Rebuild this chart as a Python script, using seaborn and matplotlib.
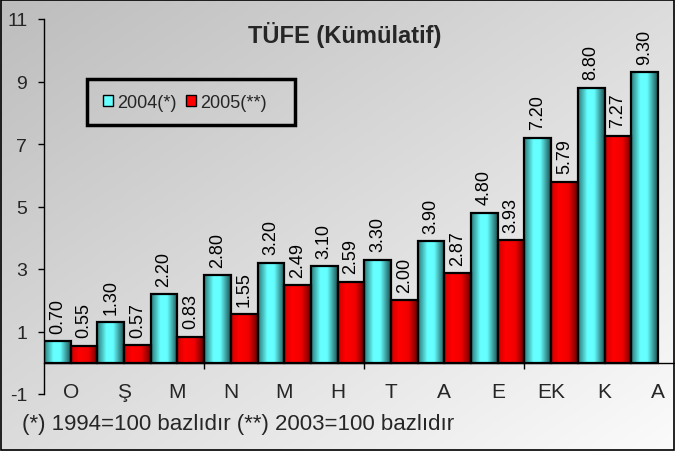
import numpy as np
import pandas as pd
import matplotlib
matplotlib.use("Agg")
import matplotlib.pyplot as plt
import seaborn as sns
from matplotlib.colors import LinearSegmentedColormap
from matplotlib.patches import Patch, Rectangle

# Aylar (Ekim 2004 - Ağustos 2005), kümülatif TÜFE
months = ["O", "Ş", "M", "N", "M", "H", "T", "A", "E", "EK", "K", "A"]
tufe_2004 = [0.70, 1.30, 2.20, 2.80, 3.20, 3.10, 3.30, 3.90, 4.80, 7.20, 8.80, 9.30]
tufe_2005 = [0.55, 0.57, 0.83, 1.55, 2.49, 2.59, 2.00, 2.87, 3.93, 5.79, 7.27, np.nan]
series_names = ["2004(*)", "2005(**)"]
y_ticks = [-1, 1, 3, 5, 7, 9, 11]

# long format for seaborn
df = pd.DataFrame({
    "pos": list(range(len(months))) * 2,
    "seri": [series_names[0]] * len(months) + [series_names[1]] * len(months),
    "deger": tufe_2004 + tufe_2005,
})

sns.set_theme(style="white")
plt.rcParams["font.family"] = ["Liberation Sans", "DejaVu Sans"]
plt.rcParams["axes.unicode_minus"] = False

teal_cmap = LinearSegmentedColormap.from_list(
    "teal", [(0, "#2b7a7a"), (0.35, "#66ffff"), (0.6, "#66ffff"), (1, "#1c5252")])
red_cmap = LinearSegmentedColormap.from_list(
    "red", [(0, "#d00000"), (0.3, "#ff0000"), (0.65, "#f00000"), (1, "#6a0000")])

fig = plt.figure(figsize=(6.75, 4.52), dpi=100)

# gradient background
bg = fig.add_axes([0, 0, 1, 1], zorder=-10)
yy, xx = np.mgrid[0:1:200j, 0:1:300j]
bg.imshow((xx + yy) / 2, cmap=LinearSegmentedColormap.from_list("bg", ["#bdbdbd", "#fbfbfb"]),
          extent=[0, 1, 0, 1], aspect="auto", origin="upper")
bg.axis("off")

ax = fig.add_axes([44 / 675, (452 - 395) / 452, 1 - 44 / 675, (395 - 20) / 452])
ax.set_facecolor("none")

sns.barplot(data=df, x="pos", y="deger", hue="seri", hue_order=series_names,
            width=1.0, gap=0, dodge=True, legend=False, ax=ax,
            palette=["#66ffff", "#ff0000"])

for patch in list(ax.patches):
    fc = patch.get_facecolor()
    cmap = teal_cmap if fc[1] > 0.5 else red_cmap
    x0, y0 = patch.get_x(), patch.get_y()
    w, h = patch.get_width(), patch.get_height()
    im = ax.imshow(np.linspace(0, 1, 64).reshape(1, -1), cmap=cmap, aspect="auto",
                   extent=[x0, x0 + w, y0, y0 + h], zorder=2, interpolation="bilinear")
    im.set_clip_path(patch)
    patch.set_facecolor("none")
    patch.set_edgecolor("black")
    patch.set_linewidth(1.6)
    patch.set_zorder(3)
    ax.annotate(f"{h:.2f}", (x0 + w / 2, y0 + h), xytext=(0, 6), textcoords="offset points",
                rotation=90, ha="center", va="bottom", fontsize=13, color="black")

# spines first: moving a spine resets the ticks
for s in ["top", "right"]:
    ax.spines[s].set_visible(False)
ax.spines["bottom"].set_position(("data", 0))
for s in ["bottom", "left"]:
    ax.spines[s].set_color("black")
    ax.spines[s].set_linewidth(1)

ax.set_xlim(-0.5, 11.32)
ax.set_ylim(-1, 11)
ax.set_yticks(y_ticks)
ax.set_yticklabels([str(v) for v in y_ticks], fontsize=14)
ax.set_xticks(range(len(months)))
ax.set_xticklabels(months)
ax.set_xticks([2.5, 5.5, 8.5], minor=True)
ax.tick_params(axis="x", which="major", length=0, pad=14, labelsize=15)
ax.tick_params(axis="x", which="minor", length=4, width=1, color="black", direction="out", bottom=True)
ax.tick_params(axis="y", length=4, width=1, color="black", direction="out", left=True,
               labelsize=14, pad=8)
ax.set_xlabel("")
ax.set_ylabel("")

# legend with a heavy frame
fig.patches.append(Rectangle((87 / 675, (452 - 126) / 452), 208 / 675, 46 / 452,
                             transform=fig.transFigure, fill=False, edgecolor="black",
                             linewidth=2.5, zorder=5))
handles = [Patch(facecolor="#66ffff", edgecolor="black"), Patch(facecolor="#ff0000", edgecolor="black")]
fig.legend(handles, series_names, loc="upper left", bbox_to_anchor=(90 / 675, (452 - 82) / 452),
           ncol=2, frameon=False, fontsize=13, handlelength=0.6, handleheight=0.6,
           handletextpad=0.2, columnspacing=0.5, borderpad=0.2)

fig.text(345 / 675, (452 - 35) / 452, "TÜFE (Kümülatif)", ha="center", va="center",
         fontsize=17, fontweight="bold")
fig.text(22 / 675, (452 - 425) / 452, "(*) 1994=100 bazlıdır (**) 2003=100 bazlıdır",
         ha="left", va="center", fontsize=16)

fig.patches.append(Rectangle((0.001, 0.002), 0.997, 0.996, transform=fig.transFigure,
                             fill=False, edgecolor="black", linewidth=1.2))

fig.savefig("out.png", dpi=100)
